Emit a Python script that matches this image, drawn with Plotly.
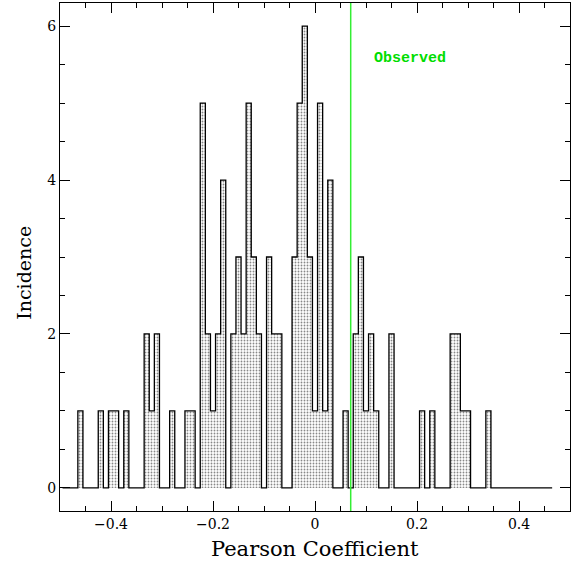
import numpy as np
import plotly.graph_objects as go

# Histogram of Pearson coefficients (bin width 0.01, first bin centred at -0.49)
bin_width = 0.01
first_center = -0.49
counts = [0, 0, 0, 1, 0, 0, 0, 1, 0, 1, 1, 0, 1, 0, 0, 0, 2, 1, 2, 0,
          0, 1, 0, 0, 1, 1, 0, 5, 2, 1, 2, 4, 0, 2, 3, 2, 5, 3, 2, 0,
          3, 2, 2, 0, 0, 3, 5, 6, 3, 1, 5, 1, 4, 0, 0, 1, 0, 2, 3, 1,
          2, 1, 0, 0, 2, 0, 0, 0, 0, 0, 1, 0, 1, 0, 0, 0, 2, 2, 1, 1,
          0, 0, 0, 1, 0, 0, 0, 0, 0, 0, 0, 0, 0, 0, 0, 0]
observed = 0.07
observed_label = "Observed"

x_ticks = [-0.4, -0.2, 0, 0.2, 0.4]
y_ticks = [0, 2, 4, 6]

centers = first_center + bin_width * np.arange(len(counts))
edges = np.append(centers - bin_width / 2, centers[-1] + bin_width / 2)
step_y = np.append(counts, counts[-1])

fig = go.Figure()
fig.add_trace(go.Scatter(
    x=edges, y=step_y, mode="lines", line_shape="hv",
    line=dict(color="black", width=1.3),
    fill="tozeroy", fillcolor="rgba(0,0,0,0)",
    fillpattern=dict(shape=".", fgcolor="#111111", bgcolor="white",
                     size=3, solidity=0.3),
    hoverinfo="skip", showlegend=False,
))

fig.add_shape(type="line", xref="x", yref="paper", x0=observed, x1=observed,
              y0=0, y1=1, line=dict(color="#33ee33", width=1.5), layer="above")
fig.add_annotation(x=observed + 0.041, y=5.58, xref="x", yref="y",
                   text="<b>" + observed_label + "</b>", showarrow=False,
                   xanchor="left", yanchor="middle",
                   font=dict(family="Liberation Mono", size=15, color="#00dd00"))

# axis titles as annotations to match placement
fig.add_annotation(x=0.5, y=-0.075, xref="paper", yref="paper",
                   text="Pearson Coefficient", showarrow=False,
                   xanchor="center", yanchor="middle",
                   font=dict(family="DejaVu Serif", size=21, color="black"))
fig.add_annotation(x=-0.071, y=0.4685, xref="paper", yref="paper",
                   text="Incidence", showarrow=False, textangle=-90,
                   xanchor="center", yanchor="middle",
                   font=dict(family="DejaVu Serif", size=19, color="black"))

axis_common = dict(showline=True, linecolor="black", linewidth=1, mirror="ticks",
                   ticks="inside", ticklen=10, tickcolor="black", tickwidth=1,
                   showgrid=False, zeroline=False,
                   tickfont=dict(family="DejaVu Serif", size=14, color="black"))

fig.update_xaxes(range=[-0.5, 0.5], tickvals=x_ticks,
                 ticktext=[("\u2212" if v < 0 else "") + ("0" if v == 0 else f"{abs(v):.1f}") for v in x_ticks],
                 minor=dict(dtick=0.05, tick0=0, ticks="inside", ticklen=5, tickcolor="black"),
                 **axis_common)
fig.update_yaxes(range=[-0.3, 6.3], tickvals=y_ticks,
                 minor=dict(dtick=0.5, tick0=0, ticks="inside", ticklen=5, tickcolor="black"),
                 **axis_common)

fig.update_layout(width=580, height=565, margin=dict(l=60, r=10, t=3, b=54),
                  plot_bgcolor="white", paper_bgcolor="white")

fig.write_html("out.html")
